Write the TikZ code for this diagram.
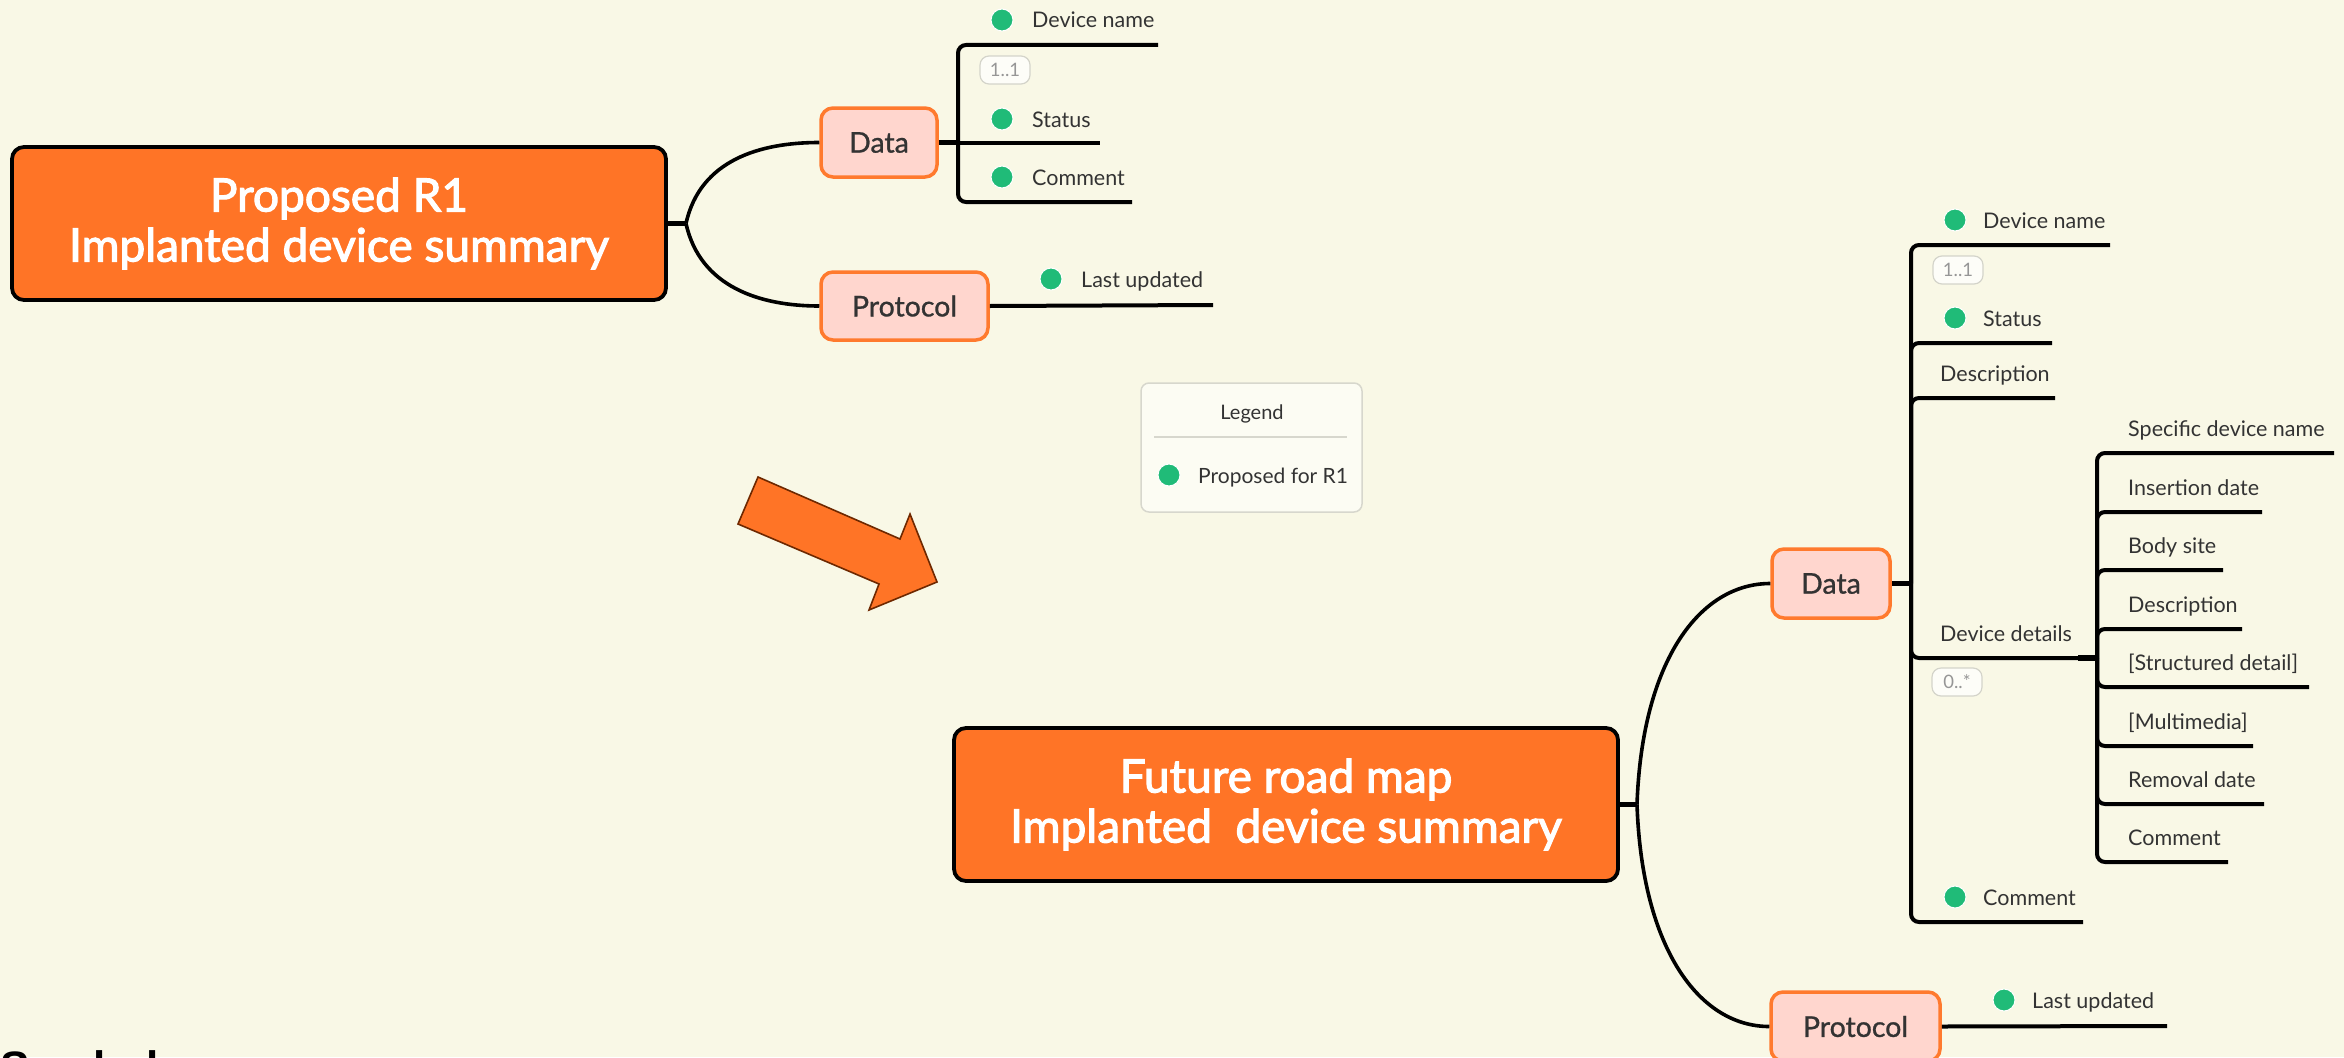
\documentclass[tikz,border=0pt]{standalone}
\usepackage{fontspec}
\setmainfont{Lato}
\newfontfamily\titlefont{Lato}[FakeBold=2.5]
\newfontfamily\subfont{Lato}[FakeBold=1]
\newfontfamily\symfont{Liberation Sans}
\definecolor{bgc}{RGB}{249,248,230}
\definecolor{mainor}{RGB}{255,116,38}
\definecolor{subfill}{RGB}{255,214,206}
\definecolor{subline}{RGB}{255,122,46}
\definecolor{dotg}{RGB}{32,187,120}
\definecolor{txt}{RGB}{51,51,51}
\definecolor{arrowline}{RGB}{110,40,0}
\definecolor{badgefill}{RGB}{253,253,248}
\definecolor{badgeline}{RGB}{212,212,202}
\definecolor{badgetext}{RGB}{150,150,150}
\definecolor{legfill}{RGB}{252,252,243}
\definecolor{legline}{RGB}{215,215,205}
\begin{document}
\begin{tikzpicture}[x=1pt,y=-1pt,
  mainbox/.style={draw=black, line width=3.8pt, fill=mainor, rounded corners=12pt, text=white, align=center, font=\titlefont\fontsize{46}{50}\selectfont, inner sep=0pt},
  subbox/.style={draw=subline, line width=3.5pt, fill=subfill, rounded corners=12pt, text=txt, font=\subfont\fontsize{28.5}{34}\selectfont, inner sep=0pt},
  leaf/.style={anchor=base west, inner sep=0pt, text=txt, font=\fontsize{21.5}{26}\selectfont},
  gdot/.style={circle, fill=dotg, draw=white, line width=1pt, minimum size=22pt, inner sep=0pt},
  badge/.style={draw=badgeline, line width=1.2pt, fill=badgefill, rounded corners=9pt, minimum width=50pt, minimum height=28pt, inner sep=0pt, text=badgetext, font=\fontsize{18.5}{20}\selectfont},
  branch/.style={line width=4pt, rounded corners=8pt},
  curve/.style={line width=3.6pt},
  stub/.style={line width=5.5pt}
]
\useasboundingbox (0,0) rectangle (2344,1057);
\fill[bgc] (0,0) rectangle (2344,1057);

% ---------- top map ----------
\node[mainbox, minimum width=654pt, minimum height=153pt] (mainT) at (339,223.5) {Proposed R1\\Implanted device summary};
\node[subbox, minimum width=116pt, minimum height=69pt] (dataT) at (879,142.5) {Data};
\node[subbox, minimum width=167pt, minimum height=68pt] (protT) at (904.5,306) {Protocol};
\coordinate (jT) at (686,223.5);
\draw[stub] (mainT.east) -- (jT);
\draw[curve] (jT) .. controls (700,160) and (760,142.5) .. (dataT.west);
\draw[curve] (jT) .. controls (700,287) and (760,306) .. (protT.west);

\coordinate (tT) at (958,142.5);
\draw[stub] (dataT.east) -- (tT);
\coordinate (eT1) at (1158,45);
\coordinate (eT2) at (1100,142.5);
\coordinate (eT3) at (1132,202);
\draw[branch] (tT) |- (eT1);
\draw[branch] (tT) -- (eT2);
\draw[branch] (tT) |- (eT3);
\node[gdot] (dT1) at (1002,20) {};
\node[leaf] (lT1) at (1032,28) {Device name};
\node[badge] (bT1) at (1005,70) {1..1};
\node[gdot] (dT2) at (1002,119) {};
\node[leaf] (lT2) at (1032,127) {Status};
\node[gdot] (dT3) at (1002,177) {};
\node[leaf] (lT3) at (1032,185) {Comment};

\coordinate (ePT) at (1213,305);
\draw[branch] (protT.east) -- (ePT);
\node[gdot] (dPT) at (1051,279) {};
\node[leaf] (lPT) at (1081,287) {Last updated};

% ---------- arrow ----------
\filldraw[fill=mainor, draw=arrowline, line width=1.6pt, line join=miter]
  (758,477) -- (900,539) -- (910,514) -- (937,582) -- (869,610) -- (879,584) -- (738,524) -- cycle;

% ---------- legend ----------
\node[draw=legline, line width=1.5pt, fill=legfill, rounded corners=8pt, minimum width=221pt, minimum height=129pt, inner sep=0pt] (legend) at (1251.5,447.5) {};
\node[anchor=base, inner sep=0pt, text=txt, font=\fontsize{20}{24}\selectfont] (legtitle) at (1252,419) {Legend};
\draw[legline, line width=1.2pt] (1154,437) -- (1347,437);
\node[gdot] (legdot) at (1169,475) {};
\node[leaf, font=\fontsize{21}{26}\selectfont] (legtext) at (1198,483) {Proposed for R1};

% ---------- bottom map ----------
\node[mainbox, minimum width=664pt, minimum height=153pt] (mainB) at (1286,804.5) {Future road map\\Implanted\ \ device summary};
\node[subbox, minimum width=118pt, minimum height=69pt] (dataB) at (1831,583.5) {Data};
\node[subbox, minimum width=169pt, minimum height=69pt] (protB) at (1855.5,1026.5) {Protocol};
\coordinate (jB) at (1637,804.5);
\draw[stub] (mainB.east) -- (jB);
\draw[curve] (jB) .. controls (1642,660) and (1700,583.5) .. (dataB.west);
\draw[curve] (jB) .. controls (1642,950) and (1700,1026.5) .. (protB.west);

\coordinate (tB) at (1911,583.5);
\draw[stub] (dataB.east) -- (tB);
\coordinate (eB1) at (2110,245);
\coordinate (eB2) at (2052,343);
\coordinate (eB3) at (2055,398);
\coordinate (sB) at (2097,658);
\coordinate (eB5) at (2083,922);
\draw[branch] (tB) |- (eB1);
\draw[branch] (tB) |- (eB2);
\draw[branch] (tB) |- (eB3);
\draw[branch] (tB) |- (sB);
\draw[branch] (tB) |- (eB5);
\draw[stub] (2078,658) -- (sB);

\node[gdot] (dB1) at (1955,220) {};
\node[leaf] (lB1) at (1983,228) {Device name};
\node[badge] (bB1) at (1958,270) {1..1};
\node[gdot] (dB2) at (1955,318) {};
\node[leaf] (lB2) at (1983,326) {Status};
\node[leaf] (lB3) at (1940,381) {Description};
\node[leaf] (lB4) at (1940,641) {Device details};
\node[badge] (bB2) at (1957,682) {0..*};
\node[gdot] (dB5) at (1955,897) {};
\node[leaf] (lB5) at (1983,905) {Comment};

% device details children
\coordinate (sE1) at (2334,453);
\coordinate (sE2) at (2262,512);
\coordinate (sE3) at (2223,570);
\coordinate (sE4) at (2242,629);
\coordinate (sE5) at (2309,687);
\coordinate (sE6) at (2253,746);
\coordinate (sE7) at (2264,804);
\coordinate (sE8) at (2228,862);
\foreach \e in {sE1,sE2,sE3,sE4,sE5,sE6,sE7,sE8} {\draw[branch] (sB) |- (\e);}
\node[leaf] (s1) at (2128,436) {Specific device name};
\node[leaf] (s2) at (2128,495) {Insertion date};
\node[leaf] (s3) at (2128,553) {Body site};
\node[leaf] (s4) at (2128,612) {Description};
\node[leaf] (s5) at (2128,670) {[Structured detail]};
\node[leaf] (s6) at (2128,729) {[Multimedia]};
\node[leaf] (s7) at (2128,787) {Removal date};
\node[leaf] (s8) at (2128,845) {Comment};

\node[gdot] (dPB) at (2004,1000) {};
\node[leaf] (lPB) at (2032,1008) {Last updated};
\coordinate (ePB) at (2167,1026);
\draw[branch] (protB.east) -- (ePB);

% cut-off caption (partly outside the page, as in the reference)
\node[anchor=base west, inner sep=0pt, font=\symfont\bfseries\fontsize{44}{50}\selectfont] (sym) at (0,1082) {Symbols};
\end{tikzpicture}
\end{document}
